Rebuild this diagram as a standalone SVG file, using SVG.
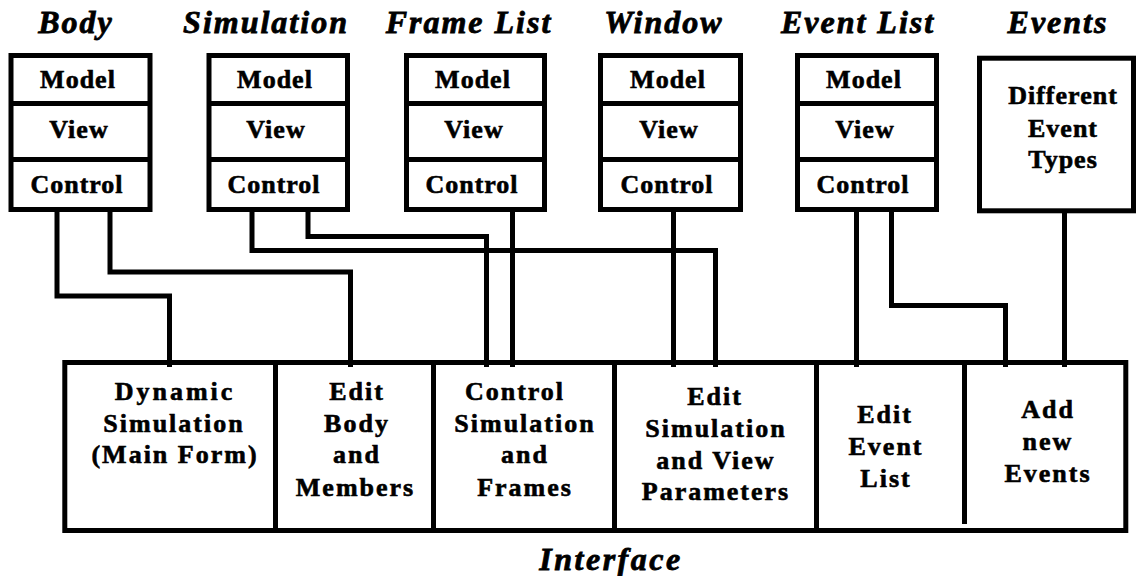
<svg xmlns="http://www.w3.org/2000/svg" width="1136" height="576" viewBox="0 0 1136 576">
<style>
.bx{fill:#fff;stroke:#000;stroke-width:5}
.ln{stroke:#000;stroke-width:5;fill:none}
.t{font-family:"Liberation Serif","Times New Roman",serif;font-weight:bold;font-size:32px;font-style:italic;letter-spacing:2px;text-anchor:middle;fill:#000;stroke:#000;stroke-width:0.8px}
.l{font-family:"Liberation Serif","Times New Roman",serif;font-weight:bold;font-size:26px;letter-spacing:1px;text-anchor:middle;fill:#000;stroke:#000;stroke-width:0.6px}
.b{font-family:"Liberation Serif","Times New Roman",serif;font-weight:bold;font-size:26px;letter-spacing:2px;text-anchor:middle;fill:#000;stroke:#000;stroke-width:0.6px}
.c{stroke:#000;stroke-width:5;fill:none;stroke-linejoin:miter}
</style>
<rect width="1136" height="576" fill="#fff"/>
<g id="body">
<text class="t" x="76" y="33">Body</text>
<rect class="bx" x="11" y="55.5" width="139" height="154"/>
<path class="ln" d="M11 103.5H150M11 159.5H150"/>
<text class="l" x="78" y="88">Model</text>
<text class="l" x="79" y="138">View</text>
<text class="l" x="77" y="193">Control</text>
</g>
<g id="simulation">
<text class="t" x="266" y="33">Simulation</text>
<rect class="bx" x="209" y="55.5" width="138.5" height="154"/>
<path class="ln" d="M209 103.5H347.5M209 159.5H347.5"/>
<text class="l" x="275" y="88">Model</text>
<text class="l" x="276" y="138">View</text>
<text class="l" x="274" y="193">Control</text>
</g>
<g id="framelist">
<text class="t" x="469" y="33">Frame List</text>
<rect class="bx" x="406.5" y="55.5" width="138" height="154"/>
<path class="ln" d="M406.5 103.5H544.5M406.5 159.5H544.5"/>
<text class="l" x="473" y="88">Model</text>
<text class="l" x="474" y="138">View</text>
<text class="l" x="472" y="193">Control</text>
</g>
<g id="window">
<text class="t" x="664" y="33">Window</text>
<rect class="bx" x="600.5" y="55.5" width="140" height="154"/>
<path class="ln" d="M600.5 103.5H740.5M600.5 159.5H740.5"/>
<text class="l" x="668" y="88">Model</text>
<text class="l" x="669" y="138">View</text>
<text class="l" x="667" y="193">Control</text>
</g>
<g id="eventlist">
<text class="t" x="858" y="33">Event List</text>
<rect class="bx" x="797.5" y="55.5" width="139" height="154"/>
<path class="ln" d="M797.5 103.5H936.5M797.5 159.5H936.5"/>
<text class="l" x="864" y="88">Model</text>
<text class="l" x="865" y="138">View</text>
<text class="l" x="863" y="193">Control</text>
</g>
<g id="events">
<text class="t" x="1058" y="33">Events</text>
<rect class="bx" x="979.5" y="58.2" width="154" height="152.6"/>
<text class="l" x="1063" y="103.5">Different</text>
<text class="l" x="1063" y="136.5">Event</text>
<text class="l" x="1063" y="168">Types</text>
</g>
<g id="connectors">
<path class="c" d="M57 209.5V296H169.5V367"/>
<path class="c" d="M110 209.5V272H350.5V367"/>
<path class="c" d="M252 209.5V250.5H715.5V367"/>
<path class="c" d="M308 209.5V236.5H486.5V367"/>
<path class="c" d="M512.5 209.5V367"/>
<path class="c" d="M673.5 209.5V367"/>
<path class="c" d="M856.5 209.5V367"/>
<path class="c" d="M891.5 209.5V305.5H1005.5V367"/>
<path class="c" d="M1064.5 210.8V367"/>
</g>
<g id="interface">
<rect class="bx" x="64.8" y="362.5" width="1061" height="168" style="fill:none"/>
<text class="t" x="611" y="570" style="letter-spacing:2.5px">Interface</text>
</g>
<g id="dynamic-simulation">
<text class="b" x="175" y="400" style="letter-spacing:3px">Dynamic</text>
<text class="b" x="174" y="432">Simulation</text>
<text class="b" x="175" y="463">(Main Form)</text>
</g>
<g id="edit-body">
<path class="ln" d="M275.5 362.5V530.5"/>
<text class="b" x="357" y="400">Edit</text>
<text class="b" x="357" y="432">Body</text>
<text class="b" x="357" y="463">and</text>
<text class="b" x="355.5" y="496">Members</text>
</g>
<g id="control-simulation">
<path class="ln" d="M433.5 362.5V530.5"/>
<text class="b" x="515" y="400">Control</text>
<text class="b" x="525" y="432">Simulation</text>
<text class="b" x="525" y="463">and</text>
<text class="b" x="525" y="496">Frames</text>
</g>
<g id="edit-simulation">
<path class="ln" d="M614.5 362.5V530.5"/>
<text class="b" x="715" y="405">Edit</text>
<text class="b" x="716" y="437">Simulation</text>
<text class="b" x="716" y="469">and View</text>
<text class="b" x="716" y="500">Parameters</text>
</g>
<g id="edit-event-list">
<path class="ln" d="M816.5 362.5V530.5"/>
<text class="b" x="885" y="423">Edit</text>
<text class="b" x="886" y="455">Event</text>
<text class="b" x="886" y="487">List</text>
</g>
<g id="add-new-events">
<path class="ln" d="M964.5 362.5V524"/>
<text class="b" x="1048" y="418">Add</text>
<text class="b" x="1048" y="450">new</text>
<text class="b" x="1048" y="482">Events</text>
</g>
</svg>
